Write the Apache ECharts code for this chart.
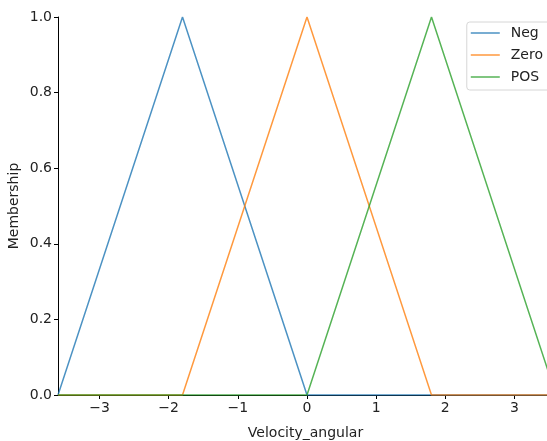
<!DOCTYPE html>
<html>
<head>
<meta charset="utf-8">
<script src="https://cdn.jsdelivr.net/npm/echarts@6/dist/echarts.min.js"></script>
<style>
  html, body { margin: 0; padding: 0; background: #fff; }
  #main { width: 547px; height: 441px; }
</style>
</head>
<body>
<div id="main"></div>
<script>
// membership functions over the universe [-3.6, 3.6]
const seriesNames = ['Neg', 'Zero', 'POS']
const negPoints = [[-3.6, 0], [-1.8, 1], [0, 0], [3.6, 0]]
const zeroPoints = [[-3.6, 0], [-1.8, 0], [0, 1], [1.8, 0], [3.6, 0]]
const posPoints = [[-3.6, 0], [0, 0], [1.8, 1], [3.6, 0]]
const xTicks = [-3, -2, -1, 0, 1, 2, 3]
const colors = ['#1f77b4', '#ff7f0e', '#2ca02c']

const font = 'DejaVu Sans'
const chart = echarts.init(document.getElementById('main'))

const makeSeries = (name, data, i) => ({
  name,
  type: 'line',
  data,
  symbol: 'none',
  clip: true,
  lineStyle: { color: colors[i], width: 1.5, opacity: 0.8 },
  itemStyle: { color: colors[i], opacity: 0.8 }
})

chart.setOption({
  animation: false,
  grid: { left: 58, right: 0, top: 17, bottom: 46, outerBoundsMode: 'none', containLabel: false },
  legend: {
    top: 22,
    right: -10,
    orient: 'vertical',
    icon: 'rect',
    itemWidth: 29,
    itemHeight: 1.5,
    itemGap: 8,
    padding: [4, 14, 6, 4],
    borderColor: '#d6d6d6',
    borderWidth: 1,
    borderRadius: 3,
    textStyle: { fontFamily: font, fontSize: 14, color: '#222', padding: [0, 0, 0, 6] },
    data: seriesNames
  },
  xAxis: {
    type: 'value',
    min: -3.6,
    max: 3.47,
    name: 'Velocity_angular',
    nameLocation: 'middle',
    nameGap: 31,
    nameMoveOverlap: false,
    nameTextStyle: { fontFamily: font, fontSize: 14, color: '#222', padding: [0, 0, 0, 6] },
    splitLine: { show: false },
    axisLine: { onZero: false, lineStyle: { color: '#000', width: 1 } },
    axisTick: { customValues: xTicks, length: 4, lineStyle: { color: '#000' } },
    axisLabel: {
      customValues: xTicks,
      fontFamily: font, fontSize: 14, color: '#222', margin: 6,
      formatter: v => String(v).replace('-', '\u2212')
    }
  },
  yAxis: {
    type: 'value',
    min: 0,
    max: 1,
    interval: 0.2,
    name: 'Membership',
    nameLocation: 'middle',
    nameGap: 37,
    nameMoveOverlap: false,
    nameTextStyle: { fontFamily: font, fontSize: 14, color: '#222' },
    splitLine: { show: false },
    axisLine: { show: true, onZero: false, lineStyle: { color: '#000', width: 1 } },
    axisTick: { show: true, length: 4, lineStyle: { color: '#000' } },
    axisLabel: {
      fontFamily: font, fontSize: 14, color: '#222', margin: 6,
      formatter: v => v.toFixed(1)
    }
  },
  series: [
    makeSeries(seriesNames[0], negPoints, 0),
    makeSeries(seriesNames[1], zeroPoints, 1),
    makeSeries(seriesNames[2], posPoints, 2)
  ]
})
</script>
</body>
</html>
